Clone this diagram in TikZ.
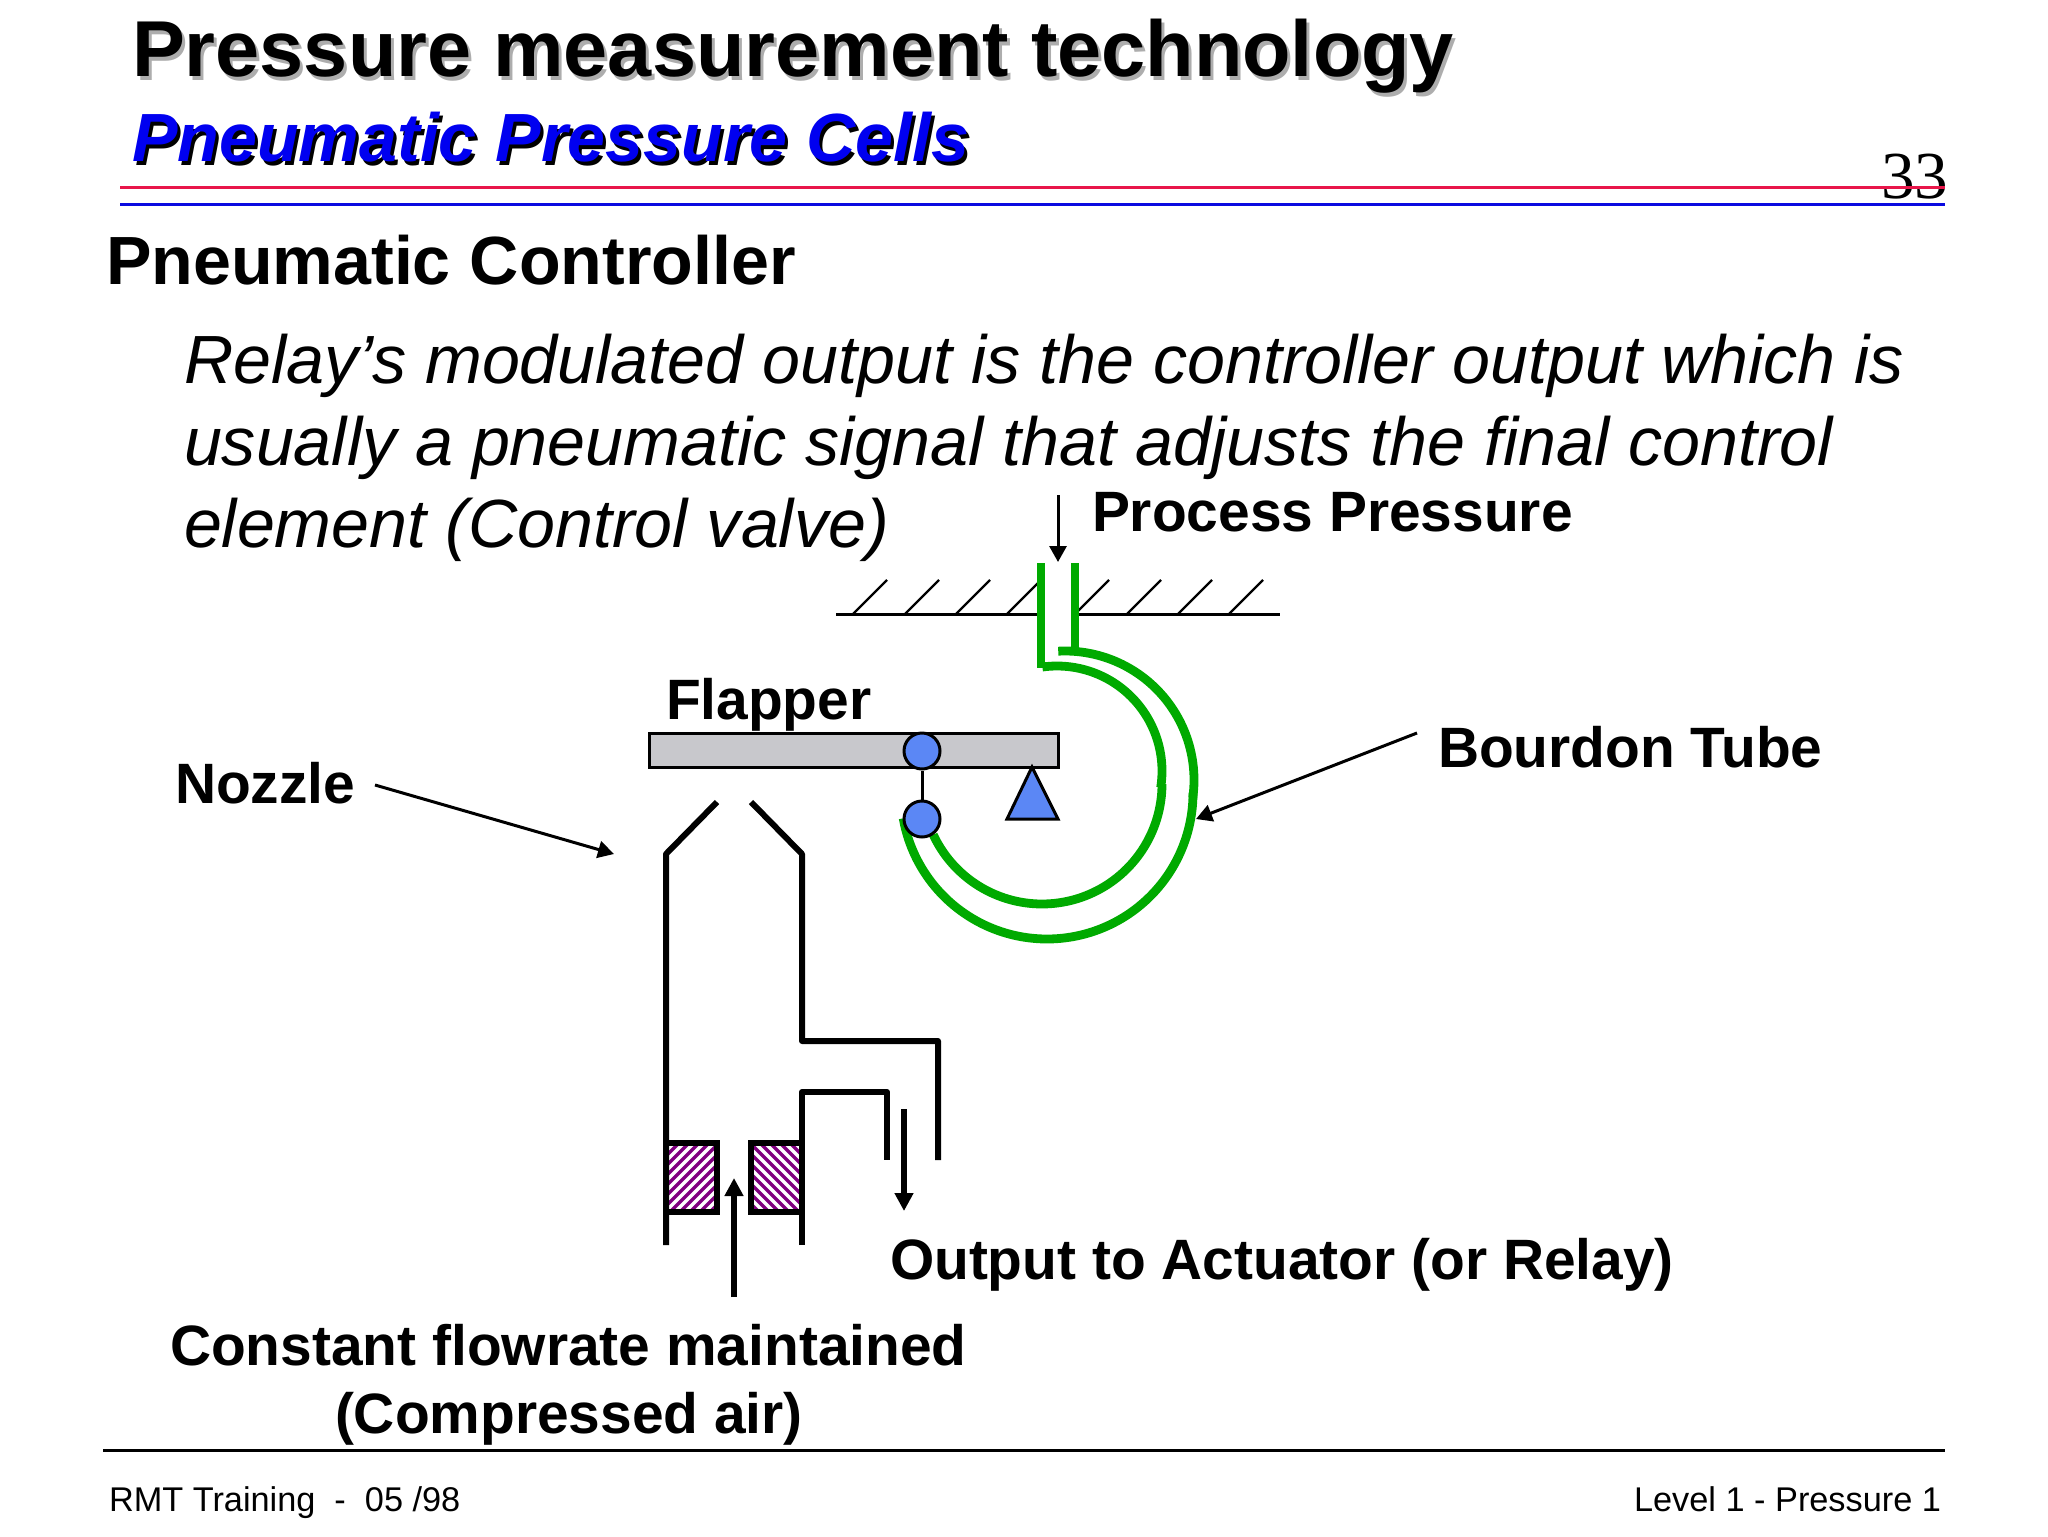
\documentclass[tikz,border=0pt]{standalone}
\usepackage{fontspec}
\setmainfont{Liberation Sans}
\newfontfamily\serifnum{Liberation Serif}
\usetikzlibrary{arrows.meta}
\definecolor{tubegreen}{HTML}{00AA00}
\definecolor{partblue}{HTML}{5B87F5}
\definecolor{flappergray}{HTML}{C8C8CC}
\definecolor{hatchpurple}{HTML}{800080}
\definecolor{rulered}{HTML}{E8164A}
\definecolor{ruleblue}{HTML}{0A0AE0}
\definecolor{subblue}{HTML}{0000F0}
\newcommand{\fs}[1]{\fontsize{#1}{#1}\selectfont}
\tikzset{
  x=0.5pt,y=-0.5pt,
  txt/.style={inner sep=0pt,outer sep=0pt,anchor=base west},
  titlefont/.style={txt,font=\fs{39.65}\bfseries},
  subfont/.style={txt,font=\fs{34.1}\bfseries\itshape},
  headfont/.style={txt,font=\fs{34.1}\bfseries},
  bodyfont/.style={txt,font=\fs{34.1}\itshape},
  labelfont/.style={txt,font=\fs{28.45}\bfseries},
  footfont/.style={txt,font=\fs{17.15}},
  thinline/.style={line width=1.5pt,black},
  pipe/.style={line width=3pt,black,line join=round},
  tube/.style={line width=4.4pt,tubegreen},
  part/.style={draw=black,line width=1.5pt,fill=partblue},
  smallarrow/.style={line width=1.5pt,black,-{Triangle[length=8pt,width=8.5pt]}},
  bigarrow/.style={line width=3pt,black,-{Triangle[length=9pt,width=9pt]}},
  stripe/.style={hatchpurple,line width=1.7pt},
}
\begin{document}
\begin{tikzpicture}
\fill[white] (0,0) rectangle (2048,1536);
\useasboundingbox (0,0) rectangle (2048,1536);
% header
\node[titlefont,text=black!32] (titleshadow) at (135,81) {Pressure measurement technology};
\node[titlefont] (title) at (132,77) {Pressure measurement technology};
\node[subfont] (subshadow) at (135,165) {Pneumatic Pressure Cells};
\node[subfont,text=subblue] (sub) at (132,162) {Pneumatic Pressure Cells};
\node[txt,font=\fs{33.6}\serifnum] (pagenum) at (1881,198) {33};
\coordinate (redl) at (120,187); \coordinate (redr) at (1945,187);
\coordinate (bluel) at (120,204); \coordinate (bluer) at (1945,204);
\draw[rulered,line width=1.5pt] (redl) -- (redr);
\draw[ruleblue,line width=1.5pt] (bluel) -- (bluer);
% body
\node[headfont] (head) at (106,284) {Pneumatic Controller};
\node[bodyfont] (l1) at (184,383) {Relay’s modulated output is the controller output which is};
\node[bodyfont] (l2) at (184,465) {usually a pneumatic signal that adjusts the final control};
\node[bodyfont] (l3) at (184,547) {element (Control valve)};
% labels
\node[labelfont] (process) at (1092,531) {Process Pressure};
\node[labelfont] (flapper) at (666,719) {Flapper};
\node[labelfont] (nozzle) at (175,803) {Nozzle};
\node[labelfont] (bourdon) at (1438,767) {Bourdon Tube};
\node[labelfont] (output) at (890,1279) {Output to Actuator (or Relay)};
\node[labelfont] (constant) at (170,1365) {Constant flowrate maintained};
\node[labelfont] (compressed) at (335,1433) {(Compressed air)};
% footer
\coordinate (footl) at (103,1450); \coordinate (footr) at (1945,1450);
\draw[black,line width=1.5pt] (footl) -- (footr);
\node[footfont] (footleft) at (109,1511) {RMT Training\ \ -\ \ 05 /98};
\node[footfont,anchor=base east] (footright) at (1941,1511) {Level 1 - Pressure 1};
% ground and hatch
\coordinate (gl) at (836,614); \coordinate (glr) at (1041,614);
\coordinate (grl) at (1075,614); \coordinate (gr) at (1280,614);
\draw[thinline] (gl) -- (glr);
\draw[thinline] (grl) -- (gr);
\foreach \hx in {853,905,956,1007,1075,1127,1178,1229}
  \draw[line width=1.2pt,black] (\hx,614) -- ++(34,-34);
% process arrow
\coordinate (pa) at (1058,495); \coordinate (pb) at (1058,562);
\draw[smallarrow] (pa) -- (pb);
% flapper
\node[draw=black,line width=1.5pt,fill=flappergray,minimum width=204.5pt,minimum height=17pt,inner sep=0pt] (flap) at (853.5,750) {};
% green tube
\draw[tube,line cap=butt] (1041,563) -- (1041,668);
\draw[tube] (1075,563) -- (1075,650);
\draw[tube] plot[domain=-93:8,samples=60,smooth] ({1065+129*cos(\x)},{780+129*sin(\x)});
\draw[tube] plot[domain=0:170,samples=80,smooth] ({1047+146*cos(\x)},{793+146*sin(\x)});
\draw[tube] plot[domain=-98:9,samples=60,smooth] ({1057+105*cos(\x)},{771+105*sin(\x)});
\draw[tube] plot[domain=0:155,samples=80,smooth] ({1042+120*cos(\x)},{784+120*sin(\x)});
% pivots
\node[part,circle,minimum size=18pt,inner sep=0pt] (pin1) at (922,751) {};
\node[part,circle,minimum size=18pt,inner sep=0pt] (pin2) at (922,819) {};
\draw[thinline] (pin1) -- (pin2);
\coordinate (ta) at (1032,767); \coordinate (tb) at (1058,819); \coordinate (tc) at (1007,819);
\draw[part,line join=miter] (ta) -- (tb) -- (tc) -- cycle;
% pointer arrows
\coordinate (ba) at (1417,733); \coordinate (bb) at (1196,819);
\draw[smallarrow] (ba) -- (bb);
\coordinate (na) at (375,785); \coordinate (nb) at (614,854);
\draw[smallarrow] (na) -- (nb);
% restrictors
\begin{scope}
\clip (666,1143) rectangle (717,1212);
\foreach \k in {0,10,...,130}
  \draw[stripe] (580+\k,1222) -- ++(80,-80);
\end{scope}
\begin{scope}
\clip (751,1143) rectangle (802,1212);
\foreach \k in {0,10,...,130}
  \draw[stripe] (670+\k,1133) -- ++(80,80);
\end{scope}
\draw[pipe,line join=miter] (666,1143) rectangle (717,1212);
\draw[pipe,line join=miter] (751,1143) rectangle (802,1212);
% nozzle and pipes
\draw[pipe] (717,802) -- (666,854) -- (666,1245);
\draw[pipe] (751,802) -- (802,854) -- (802,1041) -- (938,1041) -- (938,1160);
\draw[pipe] (802,1245) -- (802,1092) -- (887,1092) -- (887,1160);
% flow arrows
\coordinate (ua) at (734,1297); \coordinate (ub) at (734,1178);
\draw[bigarrow] (ua) -- (ub);
\coordinate (da) at (904,1109); \coordinate (db) at (904,1211);
\draw[bigarrow] (da) -- (db);
\end{tikzpicture}
\end{document}
